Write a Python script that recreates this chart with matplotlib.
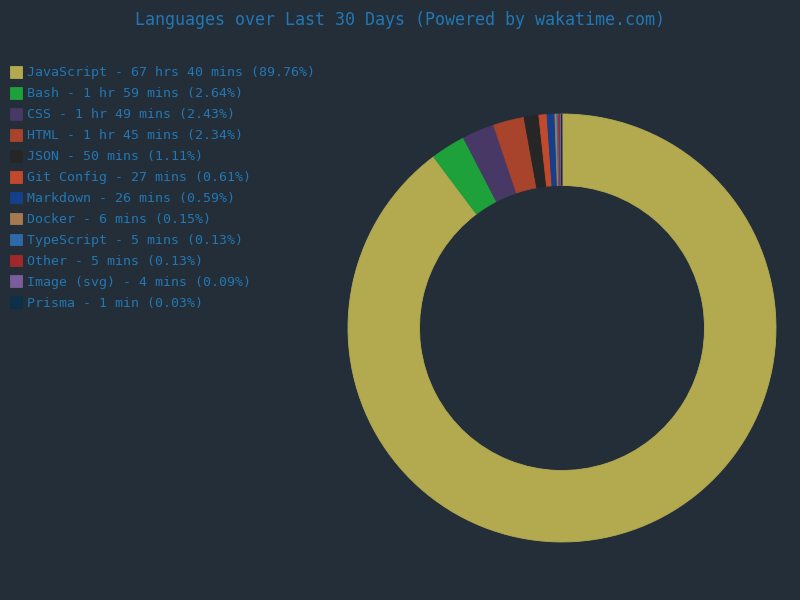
import matplotlib
matplotlib.use("Agg")
import matplotlib.pyplot as plt

languages = ["JavaScript", "Bash", "CSS", "HTML", "JSON", "Git Config", "Markdown",
             "Docker", "TypeScript", "Other", "Image (svg)", "Prisma"]
durations = ["67 hrs 40 mins", "1 hr 59 mins", "1 hr 49 mins", "1 hr 45 mins", "50 mins",
             "27 mins", "26 mins", "6 mins", "5 mins", "5 mins", "4 mins", "1 min"]
percents = [89.76, 2.64, 2.43, 2.34, 1.11, 0.61, 0.59, 0.15, 0.13, 0.13, 0.09, 0.03]
colors = ["#b3aa50", "#1ea03a", "#473866", "#a8432c", "#262626", "#c24a2c", "#143f8a",
          "#a67a50", "#2f69a8", "#a1282a", "#7b5c9c", "#0c3047"]

bg = "#242e38"
txt = "#2277b4"

fig = plt.figure(figsize=(8, 6), dpi=100, facecolor=bg)
ax = fig.add_axes([0.435, 0.0967, 0.535, 0.7133])
ax.set_facecolor(bg)
wedges, _ = ax.pie(percents, colors=colors, startangle=90, counterclock=False,
                   wedgeprops=dict(width=0.334, linewidth=0.6))
for w, c in zip(wedges, colors):
    w.set_edgecolor(c)
ax.set_xlim(-1.0, 1.0)
ax.set_ylim(-1.0, 1.0)
ax.set_aspect("equal")

labels = [f"{l} - {d} ({p:.2f}%)" for l, d, p in zip(languages, durations, percents)]
leg = fig.legend(wedges, labels, loc="upper left", bbox_to_anchor=(10 / 800, 1 - 66 / 600),
                 frameon=False, prop=dict(family="DejaVu Sans Mono", size=9.5),
                 labelcolor=txt, handlelength=0.9, handleheight=1.0,
                 handletextpad=0.4, labelspacing=0.57, borderaxespad=0, borderpad=0)
fig.suptitle("Languages over Last 30 Days (Powered by wakatime.com)", y=1 - 20 / 600,
             va="center", color=txt, family="DejaVu Sans Mono", fontsize=12)
fig.savefig("out.png", facecolor=bg)
